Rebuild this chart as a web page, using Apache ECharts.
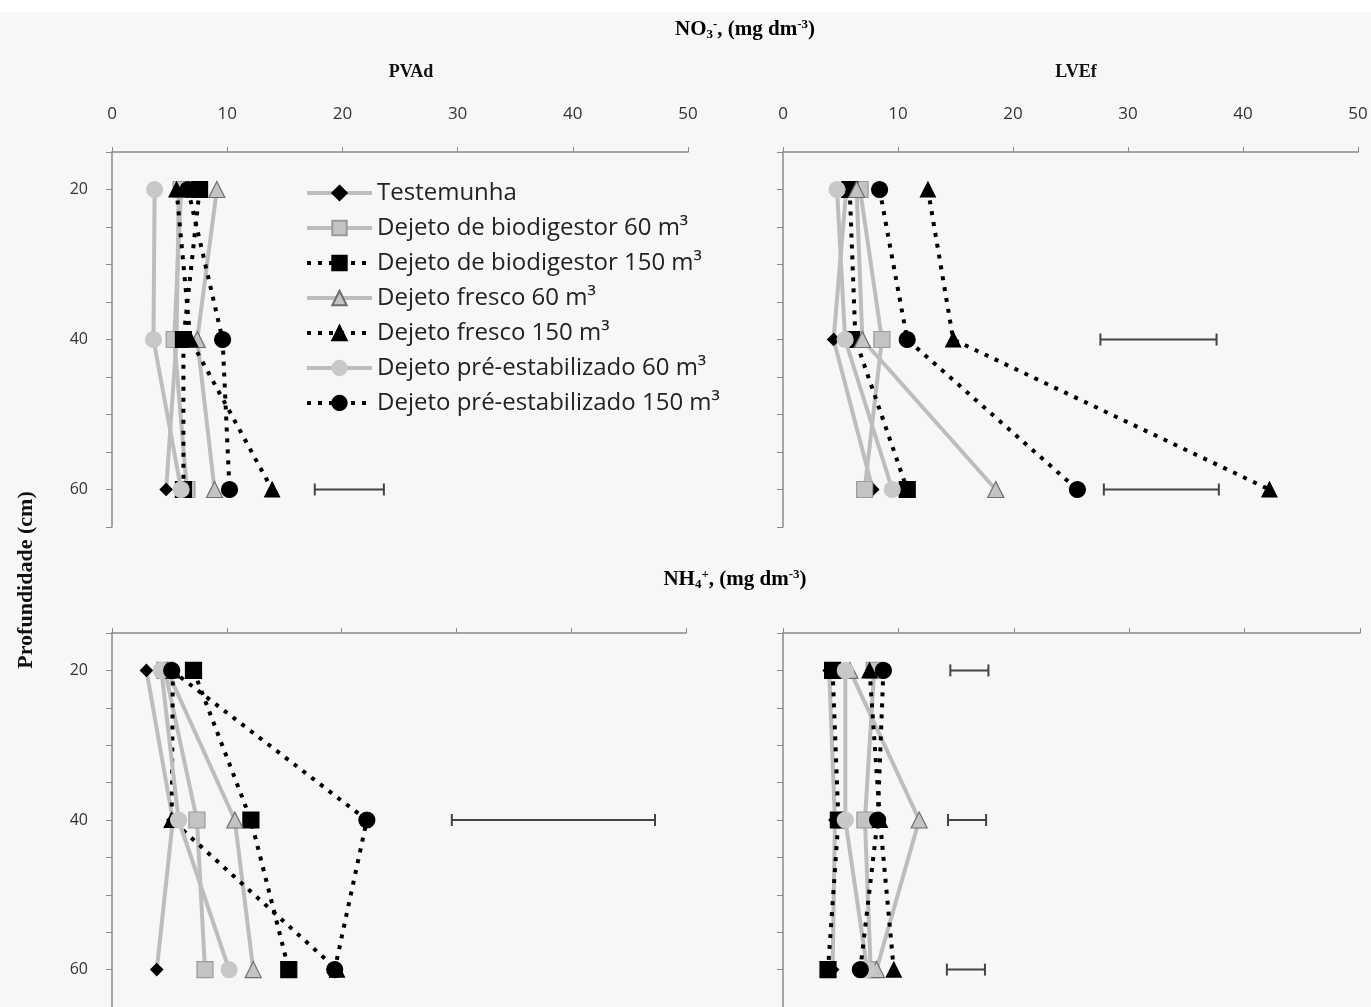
<!DOCTYPE html>
<html>
<head>
<meta charset="utf-8">
<script src="https://cdn.jsdelivr.net/npm/echarts@6/dist/echarts.min.js"></script>
<style>
html,body{margin:0;padding:0;background:#f7f7f7;}
#c{width:1371px;height:1007px;}
</style>
</head>
<body>
<div id="c"></div>
<script>
// ---- data ----
const depths = [20, 40, 60];
const seriesNames = [
  'Testemunha',
  'Dejeto de biodigestor 60 m³',
  'Dejeto de biodigestor 150 m³',
  'Dejeto fresco 60 m³',
  'Dejeto fresco 150 m³',
  'Dejeto pré-estabilizado 60 m³',
  'Dejeto pré-estabilizado 150 m³'
];
const xTicks = [0, 10, 20, 30, 40, 50];
const depthLabels = [20, 40, 60];

// values per series (in seriesNames order), at depths 20, 40, 60
const no3_PVAd = [
  [5.8, 5.6, 4.7],
  [6.0, 5.4, 6.5],
  [7.6, 6.2, 6.2],
  [9.1, 7.4, 8.9],
  [5.6, 6.8, 13.9],
  [3.7, 3.6, 6.0],
  [6.6, 9.6, 10.2]
];
const no3_LVEf = [
  [5.5, 4.4, 7.8],
  [6.7, 8.6, 7.1],
  [5.8, 6.3, 10.8],
  [6.4, 6.9, 18.5],
  [12.6, 14.8, 42.3],
  [4.7, 5.4, 9.5],
  [8.4, 10.8, 25.6]
];
const nh4_PVAd = [
  [3.0, 5.3, 3.9],
  [4.6, 7.4, 8.1],
  [7.1, 12.1, 15.4],
  [4.8, 10.7, 12.3],
  [5.3, 5.2, 19.6],
  [4.3, 5.8, 10.2],
  [5.2, 22.2, 19.4]
];
const nh4_LVEf = [
  [4.0, 4.5, 4.3],
  [7.9, 7.1, 7.6],
  [4.3, 4.8, 3.9],
  [5.8, 11.8, 8.1],
  [7.5, 8.4, 9.6],
  [5.4, 5.4, 7.3],
  [8.7, 8.2, 6.7]
];
// least significant difference bars: [from, to, depth]
const dms_no3_PVAd = [[17.6, 23.6, 60]];
const dms_no3_LVEf = [[27.6, 37.7, 40], [27.9, 37.9, 60]];
const dms_nh4_PVAd = [[29.6, 47.3, 40]];
const dms_nh4_LVEf = [[14.5, 17.8, 20], [14.3, 17.6, 40], [14.2, 17.5, 60]];

// ---- styles ----
const GRAY_LINE = '#bdbdbd';
const dotted = [4, 7];
const styles = [
  {symbol: 'diamond', size: 12, color: '#000', border: '#000', line: GRAY_LINE, type: 'solid'},
  {symbol: 'rect', size: 16, color: '#c3c3c3', border: '#9a9a9a', line: GRAY_LINE, type: 'solid'},
  {symbol: 'rect', size: 16, color: '#000', border: '#000', line: '#000', type: dotted},
  {symbol: 'triangle', size: 16, color: '#c3c3c3', border: '#6e6e6e', line: GRAY_LINE, type: 'solid'},
  {symbol: 'triangle', size: 15, color: '#000', border: '#000', line: '#000', type: dotted},
  {symbol: 'circle', size: 16, color: '#c8c8c8', border: '#c8c8c8', line: GRAY_LINE, type: 'solid'},
  {symbol: 'circle', size: 16, color: '#000', border: '#000', line: '#000', type: dotted}
];

const panels = [
  {data: no3_PVAd, dms: dms_no3_PVAd, left: 112, top: 152, width: 576, labelsX: true, labelsY: true},
  {data: no3_LVEf, dms: dms_no3_LVEf, left: 783, top: 152, width: 575, labelsX: true, labelsY: false},
  {data: nh4_PVAd, dms: dms_nh4_PVAd, left: 112, top: 633, width: 574, labelsX: false, labelsY: true},
  {data: nh4_LVEf, dms: dms_nh4_LVEf, left: 783, top: 633, width: 577, labelsX: false, labelsY: false}
];

const axisColor = '#8a8a8a';
const grid = [], xAxis = [], yAxis = [], series = [];
panels.forEach((p, i) => {
  grid.push({left: p.left, top: p.top, width: p.width, height: 375});
  xAxis.push({
    type: 'value', gridIndex: i, position: 'top', min: 0, max: 50, interval: 10,
    axisLine: {show: true, lineStyle: {color: axisColor, width: 1.5}},
    axisTick: {show: true, length: 5, lineStyle: {color: axisColor}},
    splitLine: {show: false},
    axisLabel: {show: p.labelsX, margin: 29, color: '#333', fontSize: 17, fontFamily: 'Open Sans'}
  });
  yAxis.push({
    type: 'value', gridIndex: i, inverse: true, min: 15, max: 65, interval: 5,
    axisLine: {show: true, lineStyle: {color: axisColor, width: 1.5}},
    axisTick: {show: true, length: 6, lineStyle: {color: axisColor}},
    splitLine: {show: false},
    axisLabel: {show: p.labelsY, margin: 24, color: '#333', fontSize: 16, fontFamily: 'Open Sans',
      formatter: v => (depthLabels.indexOf(v) >= 0 ? String(v) : '')}
  });
  p.data.forEach((vals, k) => {
    const s = styles[k];
    series.push({
      name: seriesNames[k], type: 'line', xAxisIndex: i, yAxisIndex: i,
      data: vals.map((v, j) => [v, depths[j]]),
      symbol: s.symbol, symbolSize: s.size, showSymbol: true,
      lineStyle: {color: s.line, width: 4, type: s.type},
      itemStyle: {color: s.color, borderColor: s.border, borderWidth: 1.2},
      emphasis: {disabled: true}, animation: false, z: 2 + k
    });
  });
  series.push({
    type: 'custom', xAxisIndex: i, yAxisIndex: i, animation: false, silent: true, z: 1,
    data: p.dms,
    renderItem: (params, api) => {
      const a = api.coord([api.value(0), api.value(2)]);
      const b = api.coord([api.value(1), api.value(2)]);
      const st = {stroke: '#444', lineWidth: 2};
      return {type: 'group', children: [
        {type: 'line', shape: {x1: a[0], y1: a[1], x2: b[0], y2: b[1]}, style: st},
        {type: 'line', shape: {x1: a[0], y1: a[1] - 6, x2: a[0], y2: a[1] + 6}, style: st},
        {type: 'line', shape: {x1: b[0], y1: b[1] - 6, x2: b[0], y2: b[1] + 6}, style: st}
      ]};
    }
  });
});

const serif = 'Liberation Serif';
const chemRich = {
  n: {fontFamily: serif, fontSize: 21, fontWeight: 'bold', color: '#111'},
  sub: {fontFamily: serif, fontSize: 13, fontWeight: 'bold', color: '#111', verticalAlign: 'bottom', padding: [10, 0, 0, 0]},
  sup: {fontFamily: serif, fontSize: 13, fontWeight: 'bold', color: '#111', verticalAlign: 'top', padding: [0, 0, 10, 0]}
};

const chart = echarts.init(document.getElementById('c'), null, {renderer: 'canvas'});
chart.setOption({
  backgroundColor: '#f7f7f7',
  animation: false,
  grid, xAxis, yAxis, series,
  legend: {
    data: seriesNames, orient: 'vertical', left: 300, top: 176,
    itemWidth: 65, itemHeight: 18, itemGap: 11,
    lineStyle: {width: 4},
    textStyle: {fontFamily: 'Open Sans', fontSize: 24, lineHeight: 18, color: '#222'},
    selectedMode: false
  },
  graphic: [
    {type: 'rect', left: 0, top: 0, shape: {width: 1371, height: 12}, style: {fill: '#ffffff'}, silent: true},
    {type: 'text', x: 745, y: 30, style: {
      text: '{n|NO}{sub|3}{sup|-}{n|, (mg dm}{sup|-3}{n|)}', rich: chemRich,
      align: 'center', verticalAlign: 'middle'}},
    {type: 'text', x: 735, y: 580, style: {
      text: '{n|NH}{sub|4}{sup|+}{n|, (mg dm}{sup|-3}{n|)}', rich: chemRich,
      align: 'center', verticalAlign: 'middle'}},
    {type: 'text', x: 411, y: 72, style: {text: 'PVAd', font: 'bold 18px "Liberation Serif"', fill: '#111', align: 'center', verticalAlign: 'middle'}},
    {type: 'text', x: 1076, y: 72, style: {text: 'LVEf', font: 'bold 18px "Liberation Serif"', fill: '#111', align: 'center', verticalAlign: 'middle'}},
    {type: 'text', x: 26, y: 580, rotation: Math.PI / 2, style: {text: 'Profundidade (cm)', font: 'bold 22px "Liberation Serif"', fill: '#111', align: 'center', verticalAlign: 'middle'}}
  ]
});
</script>
</body>
</html>
